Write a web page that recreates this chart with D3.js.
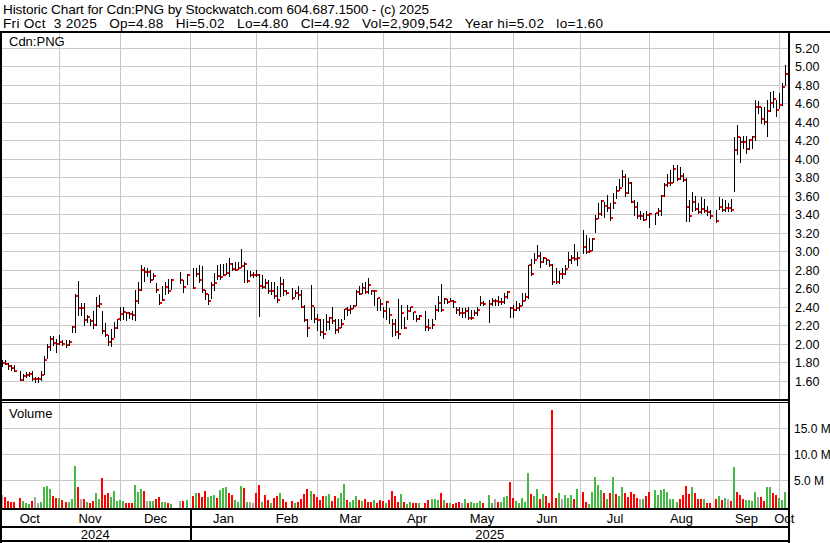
<!DOCTYPE html>
<html><head><meta charset="utf-8">
<script src="https://cdn.jsdelivr.net/npm/d3@7"></script>
<style>
html,body{margin:0;padding:0;background:#fff;}
svg{display:block;}
text{font-family:"Liberation Sans",Arial,Helvetica,sans-serif;fill:#000;}
</style>
</head><body>
<script>
const titleLine1 = "Historic Chart for Cdn:PNG by Stockwatch.com 604.687.1500 - (c) 2025";
const titleLine2 = "Fri Oct  3 2025   Op=4.88   Hi=5.02   Lo=4.80   Cl=4.92   Vol=2,909,542   Year hi=5.02   lo=1.60";
const symbolLabel = "Cdn:PNG";
const volumeLabel = "Volume";
const firstDay = "2024-10-07", lastDay = "2025-10-03";

const highs = [1.83,1.83,1.80,1.78,1.78,null,1.71,1.68,1.70,1.70,
 1.71,1.65,1.65,1.71,1.88,2.01,2.09,2.09,2.06,2.10,
 2.05,2.05,2.05,2.20,2.55,2.69,2.45,2.45,2.32,2.28,
 2.36,2.51,2.53,2.36,2.23,2.10,2.17,2.24,2.28,2.40,
 2.40,2.35,2.35,2.36,2.59,2.67,2.86,2.84,2.83,2.81,
 2.77,2.66,2.54,2.63,2.68,2.71,2.71,null,null,2.78,
 2.70,2.76,null,2.83,2.83,2.86,2.85,2.59,2.54,2.67,
 2.77,2.86,2.87,2.87,2.88,2.93,2.88,2.89,2.89,3.03,
 2.89,2.80,2.79,2.78,2.80,2.76,2.75,2.71,2.70,2.67,
 2.67,2.63,2.73,2.71,2.59,null,2.61,2.59,2.63,2.59,
 2.43,2.27,2.64,2.40,2.33,2.27,2.27,2.33,2.30,2.40,
 2.27,2.27,2.28,2.38,2.41,2.43,2.43,2.59,2.63,2.66,
 2.68,2.72,2.59,2.59,2.50,2.49,2.41,2.47,2.39,2.28,
 2.27,2.49,2.43,2.30,2.43,2.41,2.35,2.32,2.32,null,
 2.36,2.27,2.27,2.43,2.52,2.65,2.50,2.49,2.50,2.48,
 2.41,2.41,2.39,2.39,2.41,2.37,2.37,2.41,2.52,2.47,
 null,2.48,2.50,2.49,2.52,2.50,2.56,2.58,2.41,2.43,
 2.47,2.45,2.56,2.56,2.86,2.92,2.99,3.08,3.00,2.95,
 2.93,2.91,2.87,2.83,2.79,2.83,2.86,3.00,2.97,3.09,
 3.00,null,3.24,3.18,3.15,3.15,3.40,3.53,3.56,3.54,
 3.61,3.53,3.64,3.71,3.79,3.89,3.84,3.80,3.76,3.56,
 3.54,3.44,3.42,3.44,3.42,null,3.42,3.47,3.62,3.75,
 3.84,3.89,3.94,3.94,3.92,3.85,3.80,3.56,3.65,3.60,
 3.53,3.59,3.57,3.50,3.45,null,3.45,3.59,3.57,3.56,
 3.53,3.57,4.24,4.37,4.24,4.25,4.25,4.22,4.25,4.64,
 4.63,4.57,4.57,4.64,4.73,4.74,4.64,4.72,4.82,5.02];

const lows = [1.77,1.79,1.73,1.72,1.71,null,1.62,1.62,1.65,1.66,
 1.62,1.60,1.60,1.62,1.68,1.85,1.94,1.99,1.92,2.00,
 1.99,1.97,1.99,2.14,2.14,2.32,2.32,2.21,2.24,2.21,
 2.18,2.21,2.41,2.12,2.09,1.99,1.98,2.08,2.18,2.26,
 2.27,2.26,2.29,2.27,2.26,2.45,2.59,2.69,2.74,2.68,
 2.71,2.57,2.44,2.48,2.54,2.56,2.60,null,null,2.66,
 2.57,2.65,null,2.61,2.74,2.68,2.57,2.49,2.44,2.50,
 2.59,2.71,2.71,2.75,2.76,2.74,2.81,2.80,2.82,2.84,
 2.67,2.68,2.74,2.73,2.74,2.31,2.61,2.61,2.56,2.55,
 2.50,2.46,2.52,2.53,2.54,null,2.49,2.52,2.49,2.41,
 2.25,2.09,2.27,2.24,2.16,2.10,2.07,2.16,2.17,2.23,
 2.12,2.14,2.19,2.28,2.32,2.34,2.39,2.43,2.54,2.56,
 2.56,2.56,2.54,2.43,2.37,2.37,2.30,2.27,2.23,2.09,
 2.10,2.07,2.18,2.18,2.27,2.36,2.27,2.25,2.27,null,
 2.16,2.16,2.18,2.27,2.36,2.36,2.45,2.45,2.47,2.41,
 2.34,2.32,2.30,2.30,2.27,2.28,2.32,2.32,2.43,2.43,
 null,2.24,2.43,2.43,2.43,2.44,2.45,2.50,2.30,2.30,
 2.37,2.37,2.43,2.48,2.50,2.75,2.88,2.93,2.84,2.89,
 2.87,2.85,2.65,2.66,2.66,2.72,2.76,2.84,2.88,2.91,
 2.86,null,2.99,2.99,3.00,3.02,3.22,3.37,3.40,3.38,
 3.44,3.34,3.47,3.58,3.67,3.71,3.60,3.64,3.54,3.40,
 3.37,3.36,3.34,3.36,3.27,null,3.30,3.40,3.40,3.60,
 3.71,3.72,3.76,3.78,3.79,3.77,3.33,3.33,3.44,3.45,
 3.42,3.42,3.43,3.40,3.37,null,3.32,3.46,3.44,3.44,
 3.44,3.44,3.66,4.06,3.97,4.12,4.07,4.11,4.12,4.21,
 4.50,4.39,4.38,4.25,4.52,4.57,4.47,4.56,4.59,4.80];

const closes = [1.80,1.79,1.77,1.75,1.71,null,1.62,1.66,1.67,1.68,
 1.63,1.63,1.63,1.67,1.83,1.97,2.06,2.02,2.00,2.03,
 2.00,1.99,2.03,2.19,2.52,2.39,2.39,2.26,2.30,2.25,
 2.21,2.42,2.44,2.15,2.10,2.03,2.06,2.18,2.27,2.33,
 2.35,2.34,2.33,2.32,2.47,2.59,2.80,2.78,2.78,2.70,
 2.74,2.59,2.45,2.48,2.62,2.58,2.70,null,null,2.70,
 2.62,2.75,null,2.61,2.76,2.70,2.59,2.54,2.47,2.64,
 2.66,2.74,2.73,2.75,2.77,2.87,2.82,2.81,2.83,2.85,
 2.87,2.69,2.75,2.75,2.75,2.63,2.62,2.66,2.58,2.58,
 2.52,2.48,2.65,2.58,2.56,null,2.50,2.56,2.53,2.41,
 2.26,2.18,2.42,2.27,2.26,2.14,2.11,2.24,2.29,2.25,
 2.16,2.18,2.22,2.38,2.37,2.38,2.42,2.57,2.55,2.61,
 2.57,2.64,2.58,2.58,2.50,2.44,2.36,2.46,2.32,2.22,
 2.14,2.11,2.34,2.18,2.36,2.40,2.35,2.27,2.31,null,
 2.19,2.18,2.21,2.37,2.45,2.37,2.49,2.46,2.47,2.46,
 2.37,2.34,2.34,2.36,2.29,2.29,2.34,2.37,2.45,2.44,
 null,2.44,2.47,2.47,2.46,2.46,2.51,2.57,2.39,2.37,
 2.39,2.42,2.47,2.51,2.86,2.76,2.91,2.96,2.89,2.93,
 2.91,2.86,2.68,2.67,2.76,2.76,2.82,2.91,2.93,2.92,
 2.93,null,3.05,3.00,3.01,3.14,3.36,3.41,3.55,3.50,
 3.47,3.37,3.53,3.66,3.69,3.81,3.64,3.75,3.54,3.49,
 3.39,3.39,3.35,3.40,3.41,null,3.42,3.44,3.60,3.72,
 3.74,3.75,3.90,3.79,3.82,3.78,3.49,3.39,3.54,3.46,
 3.43,3.46,3.44,3.43,3.39,null,3.33,3.49,3.45,3.47,
 3.47,3.45,4.10,4.24,4.19,4.19,4.11,4.21,4.24,4.57,
 4.57,4.44,4.40,4.52,4.61,4.65,4.53,4.59,4.78,4.92];

// volume in millions of shares
const volumes = [2.1,1.75,1.0,0.7,0.7,null,1.57,0.9,0.66,0.3,
 1.0,1.75,0.66,0.7,3.7,3.9,3.2,1.9,1.6,1.6,
 1.2,0.84,0.7,1.4,7.7,3.7,1.4,1.4,0.84,0.5,
 1.0,2.5,1.4,5.4,2.1,2.5,1.75,2.8,1.0,1.2,
 1.0,0.66,0.66,0.5,4.1,2.65,3.2,2.8,1.0,1.0,
 1.0,1.4,1.75,0.84,0.84,0.66,0.3,null,null,1.0,
 1.0,1.2,null,1.9,2.5,2.5,1.75,2.8,1.75,1.9,
 2.1,1.57,3.0,3.4,3.7,2.5,2.1,1.2,0.84,3.9,
 3.4,0.84,0.84,0.66,2.5,4.1,0.84,2.1,1.2,0.66,
 1.57,1.9,2.5,1.4,0.84,null,1.0,0.66,0.84,1.4,
 2.3,3.2,2.8,2.3,1.75,1.2,1.9,1.9,2.3,1.0,
 1.9,1.57,2.5,4.3,1.2,0.84,1.2,1.9,1.2,1.0,
 1.4,0.84,0.84,1.2,0.5,1.2,1.0,0.5,1.2,2.8,
 1.9,0.84,2.3,0.84,0.3,0.84,0.66,0.66,0.66,null,
 0.5,1.2,1.4,1.4,1.2,2.5,1.2,0.66,0.5,0.3,
 0.66,0.84,0.66,1.4,0.5,0.84,0.66,0.5,1.0,0.5,
 null,2.1,0.5,1.4,0.84,0.84,1.75,1.9,4.6,1.57,
 1.0,0.5,1.57,0.84,6.4,2.3,1.9,3.2,1.4,2.3,
 1.9,0.5,18.5,1.57,2.5,1.4,2.1,1.57,2.1,1.4,
 3.2,null,2.65,0.84,0.3,2.65,5.5,4.1,3.0,2.5,
 1.4,2.5,5.5,2.3,1.9,3.7,2.5,1.75,2.65,2.3,
 1.57,1.4,1.4,1.9,2.65,null,3.0,2.1,3.0,3.2,
 2.65,1.4,1.4,0.84,1.4,2.1,3.9,2.3,3.6,2.5,
 1.4,1.4,1.4,0.66,0.66,null,1.4,1.9,1.2,1.57,
 1.4,1.0,7.5,2.65,2.1,1.4,1.2,1.2,1.0,2.65,
 1.75,1.75,1.0,3.6,3.6,2.5,2.1,1.57,1.2,2.65];

// u = up day, d = down day, n = unchanged
const volDir = ["n","d","d","d","d",null,"d","u","u","u",
 "d","n","n","u","u","u","u","d","d","u",
 "d","d","u","u","u","d","n","d","u","d",
 "d","u","u","d","d","d","u","u","u","u",
 "u","d","d","d","u","u","u","d","n","u",
 "u","d","d","u","u","d","u",null,null,"n",
 "d","u",null,"d","u","d","d","d","u","u",
 "u","d","u","u","u","d","d","u","u","u",
 "d","u","n","n","d","d","u","d","d","u",
 "d","d","u","d","d",null,"d","u","d","d",
 "d","d","u","d","d","d","d","u","u","d",
 "d","u","u","u","d","u","u","u","d","u",
 "d","d","d","u","d","d","d","u","d","d",
 "d","d","u","d","u","u","d","d","u",null,
 "d","d","u","u","u","d","u","d","u","d",
 "d","d","n","u","d","u","u","u","u","d",
 null,"u","u","n","d","u","u","u","d","d",
 "u","u","u","u","u","d","u","u","d","u",
 "d","d","d","d","u","n","u","u","u","d",
 "u",null,"d","d","u","u","u","u","u","d",
 "u","d","u","d","u","u","d","d","d","d",
 "d","n","u","d","d",null,"u","u","u","u",
 "u","u","u","u","d","d","d","d","u","d",
 "d","d","u","d","d",null,"d","u","d","u",
 "n","d","u","d","d","d","u","u","u","u",
 "n","d","d","u","u","d","d","u","u","u"];

const priceTicks = [1.6,1.8,2.0,2.2,2.4,2.6,2.8,3.0,3.2,3.4,3.6,3.8,4.0,4.2,4.4,4.6,4.8,5.0,5.2];
const volTicks = [5,10,15];
const monthNames = ["Oct","Nov","Dec","Jan","Feb","Mar","Apr","May","Jun","Jul","Aug","Sep","Oct"];
const yearNames = ["2024","2025"];

const W = 830, H = 543;
const frameRight = 788;        // left edge of right frame line
const priceTop = 33, priceBottom = 399;
const volTop = 403, volBottom = 508;

const svg = d3.select("body").append("svg").attr("width", W).attr("height", H);

// trading-day slots (weekdays)
const parse = d3.utcParse("%Y-%m-%d");
const days = d3.utcDay.range(parse(firstDay), d3.utcDay.offset(parse(lastDay), 1))
  .filter(d => d.getUTCDay() % 6 !== 0);

const xs = d3.scaleLinear().domain([0, days.length - 1]).range([2, 785.4]);
const X = i => Math.round(xs(i));
const yP = d3.scaleLinear().domain([1.6, 5.2]).range([381.5, 48.3]);
const yV = d3.scaleLinear().domain([0, 20]).range([506, 402]);

// month boundaries: last weekday on or before the 1st of each month
const monthStarts = d3.utcMonth.range(parse("2024-11-01"), parse("2025-10-02"));
const monthIdx = monthStarts.map(m => d3.bisectRight(days, m) - 1);
const gridX = monthIdx.map(i => X(i) + 0.5);

const grid = svg.append("g").attr("stroke", "#c8c8c8").attr("stroke-width", 1).attr("shape-rendering", "crispEdges");
grid.selectAll("line.hp").data(priceTicks).join("line")
  .attr("x1", 2).attr("x2", frameRight)
  .attr("y1", d => Math.floor(yP(d)) + 0.5).attr("y2", d => Math.floor(yP(d)) + 0.5);
grid.selectAll("line.hv").data(volTicks).join("line")
  .attr("x1", 2).attr("x2", frameRight)
  .attr("y1", d => Math.floor(yV(d)) + 0.5).attr("y2", d => Math.floor(yV(d)) + 0.5);
gridX.forEach(gx => {
  grid.append("line").attr("x1", gx).attr("x2", gx).attr("y1", priceTop).attr("y2", priceBottom);
  grid.append("line").attr("x1", gx).attr("x2", gx).attr("y1", volTop).attr("y2", volBottom);
});

// price HL bars + close ticks
const idx = d3.range(days.length);
const valid = idx.filter(i => highs[i] != null);
svg.append("g").attr("shape-rendering", "crispEdges").selectAll("rect").data(valid).join("rect")
  .attr("x", i => X(i)).attr("width", 1)
  .attr("y", i => Math.round(yP(highs[i])))
  .attr("height", i => Math.max(1, Math.round(yP(lows[i])) - Math.round(yP(highs[i])) + 1))
  .attr("fill", "#000");
svg.append("g").attr("shape-rendering", "crispEdges").selectAll("rect").data(valid).join("rect")
  .attr("x", i => X(i) + 1).attr("width", 2)
  .attr("y", i => Math.round(yP(closes[i])) - 1).attr("height", 2)
  .attr("fill", "#ff0000");

// volume bars
const dirColor = {u: "#46b846", d: "#ff0000", n: "#a8a8a8"};
const vValid = idx.filter(i => volumes[i] != null);
svg.append("g").attr("shape-rendering", "crispEdges").selectAll("rect").data(vValid).join("rect")
  .attr("x", i => X(i) - 1).attr("width", 2)
  .attr("y", i => Math.round(yV(volumes[i])))
  .attr("height", i => volBottom - Math.round(yV(volumes[i])))
  .attr("fill", i => dirColor[volDir[i]]);

// header text
svg.append("text").attr("x", 3).attr("y", 14).attr("font-size", 13.6)
  .attr("textLength", 426).attr("lengthAdjust", "spacing").text(titleLine1);
svg.append("text").attr("x", 3).attr("y", 28).attr("font-size", 13.6).style("white-space", "pre")
  .attr("textLength", 600).attr("lengthAdjust", "spacing").text(titleLine2);
svg.append("text").attr("x", 9).attr("y", 46).attr("font-size", 13).text(symbolLabel);
svg.append("text").attr("x", 9).attr("y", 418).attr("font-size", 13).text(volumeLabel);

// right axis labels
svg.append("g").selectAll("text").data(priceTicks).join("text")
  .attr("x", 795).attr("y", d => yP(d) + 4.5).attr("font-size", 12.5)
  .text(d => d.toFixed(2));
svg.append("g").selectAll("text").data(volTicks).join("text")
  .attr("x", 794).attr("y", d => yV(d) + 4.5).attr("font-size", 12)
  .text(d => d.toFixed(1) + " M");

// month labels
const bounds = [0, ...gridX, frameRight + 1];
svg.append("g").selectAll("text").data(monthNames).join("text")
  .attr("x", (d, i) => (bounds[i] + bounds[i + 1]) / 2).attr("y", 523)
  .attr("text-anchor", "middle").attr("font-size", 13).text(d => d);
const janPos = monthStarts.findIndex(m => m.getUTCMonth() === 0);
const yb = [0, gridX[janPos], frameRight + 1];
svg.append("g").selectAll("text").data(yearNames).join("text")
  .attr("x", (d, i) => (yb[i] + yb[i + 1]) / 2).attr("y", 538.5)
  .attr("text-anchor", "middle").attr("font-size", 13).text(d => d);

// frame lines (drawn last, over the marks)
const frame = svg.append("g").attr("fill", "#000").attr("shape-rendering", "crispEdges");
frame.append("rect").attr("x", 0).attr("y", 31).attr("width", W).attr("height", 2);
frame.append("rect").attr("x", 0).attr("y", 31).attr("width", 2).attr("height", H - 31);
frame.append("rect").attr("x", frameRight).attr("y", 31).attr("width", 2).attr("height", H - 31);
frame.append("rect").attr("x", 0).attr("y", 399).attr("width", frameRight).attr("height", 2);
frame.append("rect").attr("x", 0).attr("y", 402).attr("width", frameRight).attr("height", 1);
frame.append("rect").attr("x", 0).attr("y", 508).attr("width", frameRight).attr("height", 2);
frame.append("rect").attr("x", 0).attr("y", 526).attr("width", frameRight).attr("height", 2);
frame.append("rect").attr("x", 0).attr("y", 540).attr("width", frameRight + 2).attr("height", 2);
frame.append("rect").attr("x", Math.floor(gridX[janPos])).attr("y", 508).attr("width", 2).attr("height", 34);
</script>
</body></html>
